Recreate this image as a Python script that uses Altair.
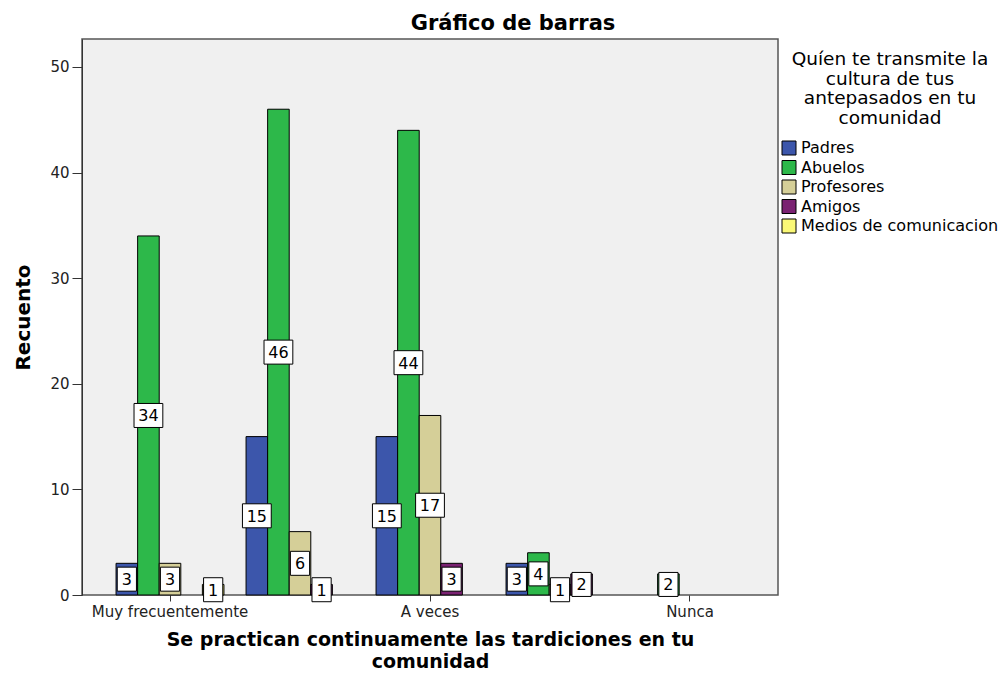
import altair as alt
import pandas as pd

categories = ["Muy frecuentemente", "Frecuentemente", "A veces", "Casi nunca", "Nunca"]
series = ["Padres", "Abuelos", "Profesores", "Amigos", "Medios de comunicacion"]
padres = [3, 15, 15, 3, 0]
abuelos = [34, 46, 44, 4, 2]
profesores = [3, 6, 17, 1, 0]
amigos = [0, 1, 3, 2, 0]
medios = [1, 0, 0, 0, 0]
colors = ["#3C56AB", "#2DB84A", "#D5CF98", "#7A2272", "#FAF876"]
hidden_labels = ["Frecuentemente", "Casi nunca"]
legend_title = ["Quíen te transmite la", "cultura de tus", "antepasados  en tu", "comunidad"]
x_title = ["Se practican continuamente las tardiciones en tu", "comunidad"]

rows = []
for s, vals in zip(series, [padres, abuelos, profesores, amigos, medios]):
    for c, v in zip(categories, vals):
        if v > 0:
            rows.append({"cat": c, "serie": s, "n": v, "mid": v / 2,
                         "digits": str(len(str(v)))})
df = pd.DataFrame(rows)

F = "DejaVu Sans"
hide_test = "indexof(['Frecuentemente','Casi nunca'], datum.value) >= 0"

path1 = "M-0.8,-1L0.8,-1L0.8,1L-0.8,1Z"
path2 = "M-1.2,-1L1.2,-1L1.2,1L-1.2,1Z"

base = alt.Chart(df).encode(
    x=alt.X("cat:N", sort=categories, title=x_title,
            scale=alt.Scale(domain=categories, paddingInner=0.17, paddingOuter=0.262),
            axis=alt.Axis(labelAngle=0, domain=False,
                          labelExpr="indexof(['Frecuentemente','Casi nunca'], datum.value) >= 0 ? '' : datum.value",
                          tickOpacity={"condition": {"test": hide_test, "value": 0}, "value": 1},
                          tickSize=6, tickColor="#333", labelPadding=3,
                          labelFontSize=15, titleFontSize=19, titleLineHeight=22,
                          titlePadding=11)),
    xOffset=alt.XOffset("serie:N", sort=series,
                        scale=alt.Scale(domain=series, paddingInner=0, paddingOuter=0)),
)

bars = base.mark_bar(stroke="black", strokeWidth=1).encode(
    y=alt.Y("n:Q", title="Recuento",
            scale=alt.Scale(domain=[0, 52.65], nice=False),
            axis=alt.Axis(values=[0, 10, 20, 30, 40, 50], grid=False, tickSize=10,
                          labelPadding=3, labelFontSize=15, titleFontSize=20,
                          titlePadding=16, domainColor="#333", tickColor="#333")),
    color=alt.Color("serie:N", sort=series,
                    scale=alt.Scale(domain=series, range=colors),
                    legend=alt.Legend(title=legend_title, orient="none", legendX=699, legendY=11,
                                      symbolType="square", symbolSize=196,
                                      symbolStrokeColor="black", symbolStrokeWidth=1,
                                      symbolOpacity=1, labelFont=F, titleFont=F,
                                      labelFontSize=16, titleFontSize=18.5,
                                      titleFontWeight="normal", titleLineHeight=19.5,
                                      titleAnchor="middle", titleAlign="center",
                                      titlePadding=13, rowPadding=1.5, labelOffset=4,
                                      padding=0, labelColor="black", titleColor="black",
                                      labelLimit=400, titleLimit=400)),
)

boxes = base.mark_point(filled=True, fill="white", stroke="black", strokeWidth=1,
                        opacity=1, fillOpacity=1, size=576).encode(
    y=alt.Y("mid:Q", title="Recuento"),
    shape=alt.Shape("digits:N", scale=alt.Scale(domain=["1", "2"], range=[path1, path2]),
                    legend=None),
)

labels = base.mark_text(font=F, fontSize=16, color="black", baseline="middle", dy=1).encode(
    y=alt.Y("mid:Q", title="Recuento"),
    text="n:Q",
)

chart = alt.layer(bars, boxes, labels).properties(
    width=696, height=556,
    autosize=alt.AutoSizeParams(type="none"),
    padding={"left": 74, "top": 31, "right": 222, "bottom": 79},
    title=alt.Title("Gráfico de barras", font=F, fontSize=21, fontWeight="bold",
                    anchor="middle", frame="group", dx=83, offset=5, color="black"),
).configure_view(
    fill="#F0F0F0", stroke="#555", strokeWidth=1.5
).configure_axis(
    labelFont=F, titleFont=F, labelColor="#222", titleColor="black", titleFontWeight="bold"
)

chart.save("out.html", embed_options={"renderer": "svg", "actions": False})
